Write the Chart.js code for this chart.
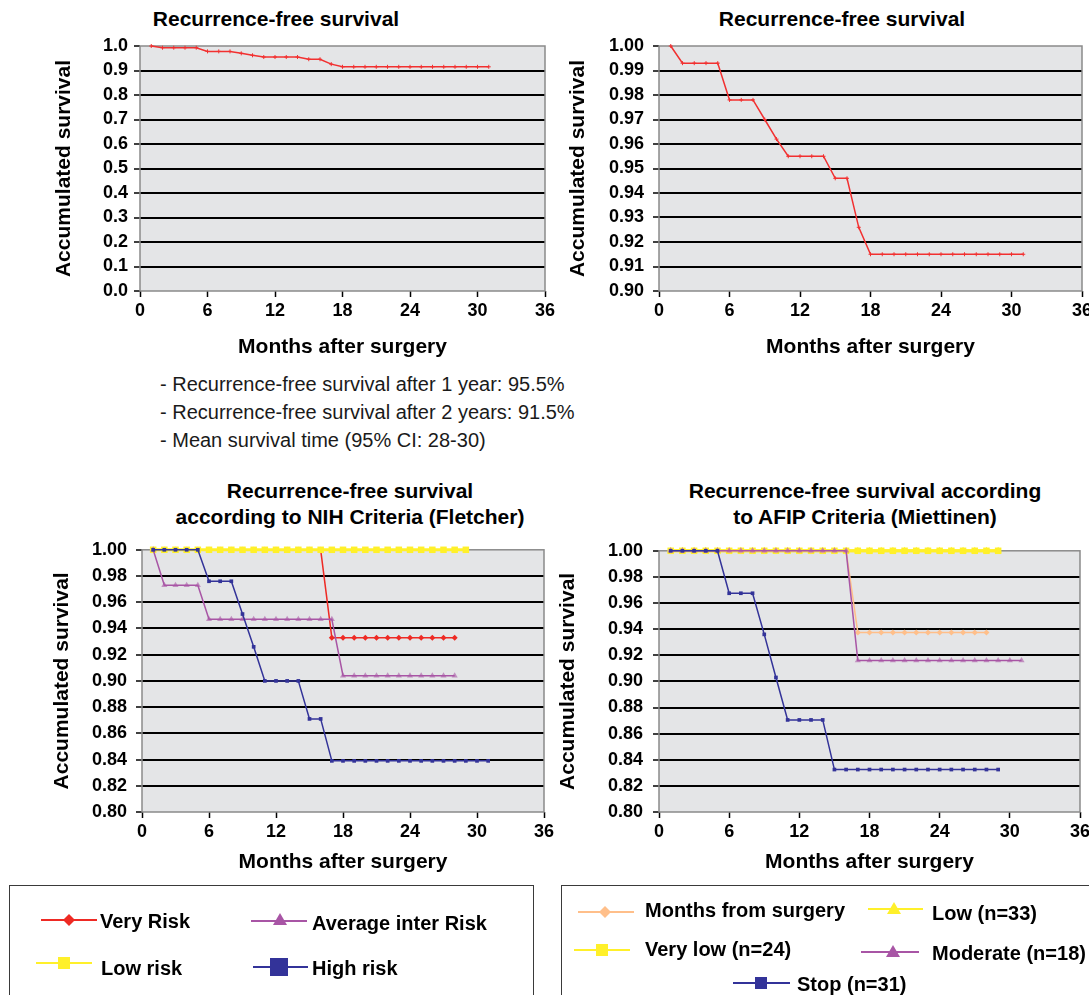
<!DOCTYPE html>
<html>
<head>
<meta charset="utf-8">
<title>Recurrence-free survival</title>
<script src="https://cdn.jsdelivr.net/npm/chart.js@4.4.1/dist/chart.umd.min.js"></script>
<style>
  html, body {
    margin: 0; padding: 0; background: #fff;
    width: 1089px; height: 995px; overflow: hidden; position: relative;
    font-family: "Liberation Sans", Arial, Helvetica, sans-serif; color: #000;
  }
  canvas { position: absolute; }
  .title { position: absolute; font-weight: bold; font-size: 21px; line-height: 26px; text-align: center; white-space: nowrap; }
  .note { position: absolute; left: 160px; top: 370px; font-size: 20px; line-height: 28px; color: #1a1a1a; white-space: nowrap; }
  .legend-box { position: absolute; top: 885px; height: 200px; border: 1.5px solid #3a3a3a; }
  .legend-text { position: absolute; font-weight: bold; font-size: 20px; line-height: 24px; white-space: nowrap; }
  svg.marks { position: absolute; left: 0; top: 0; pointer-events: none; }
</style>
</head>
<body>

<div class="title" style="left:126px;width:300px;top:6px">Recurrence-free survival</div>
<div class="title" style="left:692px;width:300px;top:6px">Recurrence-free survival</div>

<canvas id="chartAll" width="560" height="370" style="left:0;top:0"></canvas>
<canvas id="chartZoom" width="560" height="370" style="left:545px;top:0"></canvas>

<div class="note">
  - Recurrence-free survival after 1 year: 95.5%<br>
  - Recurrence-free survival after 2 years: 91.5%<br>
  - Mean survival time (95% CI: 28-30)
</div>

<div class="title" style="left:150px;width:400px;top:478px">Recurrence-free survival<br>according to NIH Criteria (Fletcher)</div>
<div class="title" style="left:665px;width:400px;top:478px">Recurrence-free survival according<br>to AFIP Criteria (Miettinen)</div>

<canvas id="chartNih" width="560" height="360" style="left:0;top:530px"></canvas>
<canvas id="chartAfip" width="560" height="360" style="left:545px;top:530px"></canvas>

<!-- legend boxes under the two risk charts -->
<div class="legend-box" style="left:9px;width:523px"></div>
<div class="legend-box" style="left:561px;width:600px"></div>

<svg class="marks" width="1089" height="995">
  <line x1="41" y1="920" x2="97" y2="920" stroke="#ee2a24" stroke-width="2"/>
  <polygon points="69,914 75,920 69,926 63,920" fill="#ee2a24"/>
  <line x1="251" y1="921" x2="307" y2="921" stroke="#a855a5" stroke-width="2"/>
  <polygon points="280,913 287,925 273,925" fill="#a855a5"/>
  <line x1="36" y1="963" x2="92" y2="963" stroke="#fff02a" stroke-width="2"/>
  <rect x="58" y="957" width="12" height="12" fill="#fff02a"/>
  <line x1="253" y1="967" x2="308" y2="967" stroke="#333399" stroke-width="2"/>
  <rect x="270" y="958" width="18" height="18" fill="#333399"/>

  <line x1="578" y1="912" x2="634" y2="912" stroke="#ffbf8a" stroke-width="2"/>
  <polygon points="605,906 611,912 605,918 599,912" fill="#ffbf8a"/>
  <line x1="868" y1="909" x2="923" y2="909" stroke="#fff02a" stroke-width="2"/>
  <polygon points="894,902 901,914 887,914" fill="#fff02a"/>
  <line x1="574" y1="950" x2="630" y2="950" stroke="#fff02a" stroke-width="2"/>
  <rect x="596" y="944" width="12" height="12" fill="#fff02a"/>
  <line x1="861" y1="952" x2="919" y2="952" stroke="#a855a5" stroke-width="2"/>
  <polygon points="893,945 900,957 886,957" fill="#a855a5"/>
  <line x1="733" y1="983" x2="790" y2="983" stroke="#333399" stroke-width="2"/>
  <rect x="755" y="977" width="12" height="12" fill="#333399"/>
</svg>

<span class="legend-text" style="left:100px;top:909px">Very Risk</span>
<span class="legend-text" style="left:312px;top:911px">Average inter Risk</span>
<span class="legend-text" style="left:101px;top:956px">Low risk</span>
<span class="legend-text" style="left:312px;top:956px">High risk</span>

<span class="legend-text" style="left:645px;top:898px">Months from surgery</span>
<span class="legend-text" style="left:932px;top:901px">Low (n=33)</span>
<span class="legend-text" style="left:645px;top:937px">Very low (n=24)</span>
<span class="legend-text" style="left:932px;top:941px">Moderate (n=18)</span>
<span class="legend-text" style="left:797px;top:972px">Stop (n=31)</span>

<script>
Chart.defaults.font.family = '"Liberation Sans", Arial, Helvetica, sans-serif';
Chart.defaults.color = '#000';

// months after surgery (x positions of every series, series use as many as they have values)
const months = [1, 2, 3, 4, 5, 6, 7, 8, 9, 10, 11, 12, 13, 14, 15, 16,
                17, 18, 19, 20, 21, 22, 23, 24, 25, 26, 27, 28, 29, 30, 31];

// whole cohort
const survivalAll = [1.000, 0.993, 0.993, 0.993, 0.993, 0.978, 0.978, 0.978, 0.970, 0.962,
                     0.955, 0.955, 0.955, 0.955, 0.946, 0.946, 0.926, 0.915, 0.915, 0.915,
                     0.915, 0.915, 0.915, 0.915, 0.915, 0.915, 0.915, 0.915, 0.915, 0.915, 0.915];

// NIH criteria (Fletcher)
const nihVeryRisk = [1.00, 1.00, 1.00, 1.00, 1.00, 1.00, 1.00, 1.00, 1.00, 1.00, 1.00, 1.00, 1.00, 1.00,
                     1.00, 1.00, 0.933, 0.933, 0.933, 0.933, 0.933, 0.933, 0.933, 0.933, 0.933, 0.933,
                     0.933, 0.933];
const nihAverageRisk = [1.00, 0.973, 0.973, 0.973, 0.973, 0.947, 0.947, 0.947, 0.947, 0.947, 0.947,
                        0.947, 0.947, 0.947, 0.947, 0.947, 0.947, 0.904, 0.904, 0.904, 0.904, 0.904,
                        0.904, 0.904, 0.904, 0.904, 0.904, 0.904];
const nihLowRisk = [1.00, 1.00, 1.00, 1.00, 1.00, 1.00, 1.00, 1.00, 1.00, 1.00, 1.00, 1.00, 1.00, 1.00, 1.00,
                    1.00, 1.00, 1.00, 1.00, 1.00, 1.00, 1.00, 1.00, 1.00, 1.00, 1.00, 1.00, 1.00, 1.00];
const nihHighRisk = [1.00, 1.00, 1.00, 1.00, 1.00, 0.976, 0.976, 0.976, 0.951, 0.926, 0.900, 0.900,
                     0.900, 0.900, 0.871, 0.871, 0.839, 0.839, 0.839, 0.839, 0.839, 0.839, 0.839,
                     0.839, 0.839, 0.839, 0.839, 0.839, 0.839, 0.839, 0.839];

// AFIP criteria (Miettinen)
const afipMonthsFrom = [1.00, 1.00, 1.00, 1.00, 1.00, 1.00, 1.00, 1.00, 1.00, 1.00, 1.00, 1.00, 1.00, 1.00,
                        1.00, 1.00, 0.9375, 0.9375, 0.9375, 0.9375, 0.9375, 0.9375, 0.9375, 0.9375,
                        0.9375, 0.9375, 0.9375, 0.9375];
const afipVeryLow = [1.00, 1.00, 1.00, 1.00, 1.00, 1.00, 1.00, 1.00, 1.00, 1.00, 1.00, 1.00, 1.00, 1.00, 1.00,
                     1.00, 1.00, 1.00, 1.00, 1.00, 1.00, 1.00, 1.00, 1.00, 1.00, 1.00, 1.00, 1.00, 1.00];
const afipLow = [1.00, 1.00, 1.00, 1.00, 1.00, 1.00, 1.00, 1.00, 1.00, 1.00, 1.00, 1.00, 1.00, 1.00, 1.00,
                 1.00, 1.00, 1.00, 1.00, 1.00, 1.00, 1.00, 1.00, 1.00, 1.00, 1.00, 1.00, 1.00, 1.00];
const afipModerate = [1.00, 1.00, 1.00, 1.00, 1.00, 1.00, 1.00, 1.00, 1.00, 1.00, 1.00, 1.00, 1.00, 1.00,
                      1.00, 1.00, 0.916, 0.916, 0.916, 0.916, 0.916, 0.916, 0.916, 0.916, 0.916, 0.916,
                      0.916, 0.916, 0.916, 0.916, 0.916];
const afipStop = [1.00, 1.00, 1.00, 1.00, 1.00, 0.9675, 0.9675, 0.9675, 0.936, 0.903, 0.8705, 0.8705,
                  0.8705, 0.8705, 0.8325, 0.8325, 0.8325, 0.8325, 0.8325, 0.8325, 0.8325, 0.8325,
                  0.8325, 0.8325, 0.8325, 0.8325, 0.8325, 0.8325, 0.8325];

// tick labels
const xTicks = [0, 6, 12, 18, 24, 30, 36];
const yTicksFull = [0.0, 0.1, 0.2, 0.3, 0.4, 0.5, 0.6, 0.7, 0.8, 0.9, 1.0];
const yTicksZoom = [0.90, 0.91, 0.92, 0.93, 0.94, 0.95, 0.96, 0.97, 0.98, 0.99, 1.00];
const yTicksRisk = [0.80, 0.82, 0.84, 0.86, 0.88, 0.90, 0.92, 0.94, 0.96, 0.98, 1.00];

const RED = '#ee2a24', PURPLE = '#a855a5', PURPLE_FILL = 'rgba(168,85,165,0.6)';
const YELLOW = '#fff02a', NAVY = '#333399', ORANGE = '#ffbf8a';

// grey plot area + thin grey frame (gridlines come from the scales)
const plotFrame = {
    id: 'plotFrame',
    beforeDraw(chart) {
        const { ctx, chartArea: a } = chart;
        ctx.save();
        ctx.fillStyle = '#e4e5e7';
        ctx.fillRect(a.left, a.top, a.right - a.left, a.bottom - a.top);
        ctx.restore();
    },
    beforeDatasetsDraw(chart) {
        const { ctx, chartArea: a } = chart;
        ctx.save();
        ctx.strokeStyle = '#8a8a8a';
        ctx.lineWidth = 1.5;
        ctx.strokeRect(a.left, a.top, a.right - a.left, a.bottom - a.top);
        ctx.restore();
    }
};

function pts(values) {
    return values.map((v, i) => ({ x: months[i], y: v }));
}

function series(label, values, color, extra) {
    return Object.assign({
        label: label,
        data: pts(values),
        borderColor: color,
        backgroundColor: color,
        borderWidth: 1.5,
        pointBorderWidth: 0,
        pointRadius: 3,
        tension: 0,
        clip: false
    }, extra);
}

function makeScales(o) {
    const last = o.yTicks.length - 1;
    return {
        x: {
            type: 'linear', min: 0, max: 36,
            afterBuildTicks: s => { s.ticks = xTicks.map(v => ({ value: v })); },
            afterFit: s => { s.height = o.xHeight; },
            grid: { drawOnChartArea: false, tickLength: 6, tickColor: '#000', tickWidth: 1.5 },
            border: { display: false },
            ticks: { font: { size: 18, weight: 'bold' }, padding: 3, maxRotation: 0, autoSkip: false, callback: v => String(v) },
            title: {
                display: true, text: 'Months after surgery',
                font: { size: 21, weight: 'bold' }, padding: { top: 0, bottom: o.xTitlePad }
            }
        },
        y: {
            min: o.yTicks[0], max: o.yTicks[last],
            afterBuildTicks: s => { s.ticks = o.yTicks.map(v => ({ value: v })); },
            afterFit: s => { s.width = o.yWidth; },
            grid: {
                color: c => (c.index === 0 || c.index === last) ? 'rgba(0,0,0,0)' : '#000',
                lineWidth: 2, tickLength: 6, tickColor: '#000', tickWidth: 1.5
            },
            border: { display: false },
            ticks: {
                font: { size: 18, weight: 'bold' }, padding: o.yPad, autoSkip: false,
                callback: v => v.toFixed(o.decimals)
            },
            title: {
                display: true, text: 'Accumulated survival',
                font: { size: 21, weight: 'bold' }, padding: { top: o.yTitlePad, bottom: 0 }
            }
        }
    };
}

function makeChart(id, datasets, padding, scaleOpts) {
    return new Chart(document.getElementById(id), {
        type: 'line',
        data: { datasets: datasets },
        options: {
            responsive: false,
            animation: false,
            layout: { padding: padding },
            plugins: { legend: { display: false }, tooltip: { enabled: false } },
            scales: makeScales(scaleOpts)
        },
        plugins: [plotFrame]
    });
}

// --- top row: overall recurrence-free survival, full and zoomed y range ---
const overallLine = { pointStyle: 'cross', pointRadius: 2, pointBorderWidth: 1, borderColor: '#f23030' };

makeChart('chartAll',
    [series('Recurrence-free survival', survivalAll, '#f23030', overallLine)],
    { left: 0, top: 46, right: 15, bottom: 0 },
    { yTicks: yTicksFull, decimals: 1, yWidth: 140, xHeight: 79, yPad: 6, yTitlePad: 52, xTitlePad: 10 });

makeChart('chartZoom',
    [series('Recurrence-free survival', survivalAll, '#f23030', overallLine)],
    { left: 0, top: 46, right: 23, bottom: 0 },
    { yTicks: yTicksZoom, decimals: 2, yWidth: 114, xHeight: 79, yPad: 9, yTitlePad: 21, xTitlePad: 10 });

// --- bottom row: by risk group (first dataset is drawn on top) ---
makeChart('chartNih', [
    series('High risk', nihHighRisk, NAVY, { pointStyle: 'rect', pointRadius: 2.6 }),
    series('Average inter Risk', nihAverageRisk, PURPLE, { pointStyle: 'triangle', pointRadius: 3.5, pointBackgroundColor: PURPLE_FILL }),
    series('Low risk', nihLowRisk, YELLOW, { pointStyle: 'rect', pointRadius: 4.6, borderWidth: 3 }),
    series('Very Risk', nihVeryRisk, RED, { pointStyle: 'rectRot', pointRadius: 3 })
], { left: 0, top: 15, right: 16, bottom: 0 },
    { yTicks: yTicksRisk, decimals: 2, yWidth: 142, xHeight: 78, yPad: 9, yTitlePad: 50, xTitlePad: 15 });

makeChart('chartAfip', [
    series('Stop (n=31)', afipStop, NAVY, { pointStyle: 'rect', pointRadius: 2.6 }),
    series('Moderate (n=18)', afipModerate, PURPLE, { pointStyle: 'triangle', pointRadius: 3.5, pointBackgroundColor: PURPLE_FILL }),
    series('Months from surgery', afipMonthsFrom, ORANGE, { pointStyle: 'rectRot', pointRadius: 3 }),
    series('Low (n=33)', afipLow, YELLOW, { pointStyle: 'triangle', pointRadius: 4, borderWidth: 3 }),
    series('Very low (n=24)', afipVeryLow, YELLOW, { pointStyle: 'rect', pointRadius: 4.6, borderWidth: 3 })
], { left: 0, top: 12, right: 25, bottom: 0 },
    { yTicks: yTicksRisk, decimals: 2, yWidth: 114, xHeight: 78, yPad: 10, yTitlePad: 11, xTitlePad: 15 });
</script>
</body>
</html>
